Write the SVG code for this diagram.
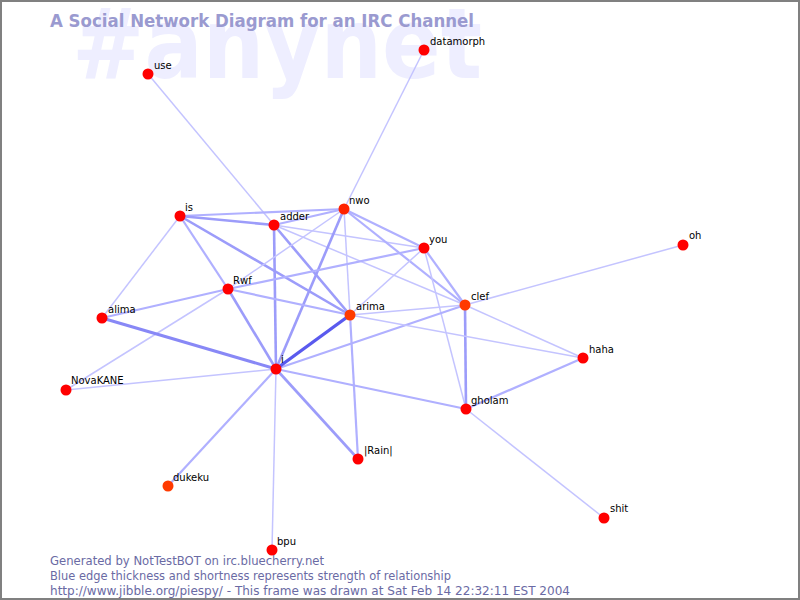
<svg xmlns="http://www.w3.org/2000/svg" width="800" height="600" viewBox="0 0 800 600">
<style>
.e1{stroke:#c4c4ff;stroke-width:1.5;fill:none}
.e2{stroke:#b0b0ff;stroke-width:2.2;fill:none}
.e3{stroke:#9c9cfa;stroke-width:2.6;fill:none}
.e4{stroke:#8888f6;stroke-width:3;fill:none}
.e5{stroke:#5a5aee;stroke-width:3.4;fill:none}
.n{fill:#ff0000}
.o{fill:#ff3a00}
.lb{font-family:"DejaVu Sans","Liberation Sans",sans-serif;font-size:10px;fill:#000}
.ft{font-family:"DejaVu Sans","Liberation Sans",sans-serif;font-size:12px;fill:#6a6aa4}
</style>
<rect x="0" y="0" width="800" height="600" fill="#ffffff"/>
<text x="72" y="78" font-family="DejaVu Sans, Liberation Sans, sans-serif" font-weight="bold" font-size="98" fill="#eeeeff" textLength="410" lengthAdjust="spacingAndGlyphs">#anynet</text>
<text x="50" y="27" font-family="DejaVu Sans, Liberation Sans, sans-serif" font-weight="bold" font-size="17" fill="#9a9ad0" textLength="424" lengthAdjust="spacingAndGlyphs">A Social Network Diagram for an IRC Channel</text>
<g id="connectors">
<line class="e1" x1="148" y1="74" x2="274" y2="225"/>
<line class="e1" x1="424" y1="50" x2="344" y2="209"/>
<line class="e2" x1="180" y1="216" x2="344" y2="209"/>
<line class="e3" x1="180" y1="216" x2="274" y2="225"/>
<line class="e2" x1="180" y1="216" x2="228" y2="289"/>
<line class="e3" x1="180" y1="216" x2="350" y2="315"/>
<line class="e1" x1="180" y1="216" x2="102" y2="318"/>
<line class="e2" x1="274" y1="225" x2="344" y2="209"/>
<line class="e1" x1="274" y1="225" x2="424" y2="248"/>
<line class="e1" x1="274" y1="225" x2="465" y2="305"/>
<line class="e3" x1="274" y1="225" x2="276" y2="369"/>
<line class="e3" x1="274" y1="225" x2="350" y2="315"/>
<line class="e2" x1="344" y1="209" x2="424" y2="248"/>
<line class="e2" x1="344" y1="209" x2="465" y2="305"/>
<line class="e1" x1="344" y1="209" x2="228" y2="289"/>
<line class="e3" x1="344" y1="209" x2="276" y2="369"/>
<line class="e1" x1="344" y1="209" x2="350" y2="315"/>
<line class="e2" x1="350" y1="315" x2="358" y2="459"/>
<line class="e2" x1="424" y1="248" x2="228" y2="289"/>
<line class="e1" x1="424" y1="248" x2="350" y2="315"/>
<line class="e2" x1="424" y1="248" x2="465" y2="305"/>
<line class="e1" x1="424" y1="248" x2="466" y2="409"/>
<line class="e1" x1="465" y1="305" x2="683" y2="245"/>
<line class="e1" x1="465" y1="305" x2="583" y2="358"/>
<line class="e3" x1="465" y1="305" x2="466" y2="409"/>
<line class="e2" x1="465" y1="305" x2="276" y2="369"/>
<line class="e1" x1="465" y1="305" x2="350" y2="315"/>
<line class="e1" x1="350" y1="315" x2="583" y2="358"/>
<line class="e2" x1="228" y1="289" x2="102" y2="318"/>
<line class="e1" x1="228" y1="289" x2="66" y2="390"/>
<line class="e2" x1="228" y1="289" x2="350" y2="315"/>
<line class="e3" x1="228" y1="289" x2="276" y2="369"/>
<line class="e4" x1="102" y1="318" x2="276" y2="369"/>
<line class="e1" x1="66" y1="390" x2="276" y2="369"/>
<line class="e5" x1="276" y1="369" x2="350" y2="315"/>
<line class="e2" x1="276" y1="369" x2="466" y2="409"/>
<line class="e3" x1="276" y1="369" x2="358" y2="459"/>
<line class="e2" x1="276" y1="369" x2="168" y2="486"/>
<line class="e1" x1="276" y1="369" x2="272" y2="550"/>
<line class="e2" x1="466" y1="409" x2="583" y2="358"/>
<line class="e1" x1="466" y1="409" x2="604" y2="518"/>
</g>
<g id="node-use"><circle class="n" cx="148" cy="74" r="5.5"/><text class="lb" x="154" y="69">use</text></g>
<g id="node-datamorph"><circle class="n" cx="424" cy="50" r="5.5"/><text class="lb" x="430" y="45">datamorph</text></g>
<g id="node-is"><circle class="n" cx="180" cy="216" r="5.5"/><text class="lb" x="185" y="211">is</text></g>
<g id="node-adder"><circle class="n" cx="274" cy="225" r="5.5"/><text class="lb" x="280" y="220">adder</text></g>
<g id="node-nwo"><circle class="n" cx="344" cy="209" r="5.5" fill="#ff2200" style="fill:#ff2200"/><text class="lb" x="349" y="204">nwo</text></g>
<g id="node-you"><circle class="n" cx="424" cy="248" r="5.5"/><text class="lb" x="429" y="243">you</text></g>
<g id="node-oh"><circle class="n" cx="683" cy="245" r="5.5"/><text class="lb" x="689" y="239">oh</text></g>
<g id="node-Rwf"><circle class="n" cx="228" cy="289" r="5.5"/><text class="lb" x="233" y="284">Rwf</text></g>
<g id="node-alima"><circle class="n" cx="102" cy="318" r="5.5"/><text class="lb" x="108" y="313">alima</text></g>
<g id="node-arima"><circle class="o" cx="350" cy="315" r="5.5"/><text class="lb" x="356" y="310">arima</text></g>
<g id="node-clef"><circle class="o" cx="465" cy="305" r="5.5"/><text class="lb" x="471" y="300">clef</text></g>
<g id="node-haha"><circle class="n" cx="583" cy="358" r="5.5"/><text class="lb" x="589" y="353">haha</text></g>
<g id="node-i"><circle class="n" cx="276" cy="369" r="5.5"/><text class="lb" x="281" y="363">i</text></g>
<g id="node-NovaKANE"><circle class="n" cx="66" cy="390" r="5.5"/><text class="lb" x="71" y="384">NovaKANE</text></g>
<g id="node-gholam"><circle class="n" cx="466" cy="409" r="5.5"/><text class="lb" x="471" y="404">gholam</text></g>
<g id="node-Rain"><circle class="n" cx="358" cy="459" r="5.5"/><text class="lb" x="364" y="454">|Rain|</text></g>
<g id="node-dukeku"><circle class="o" cx="168" cy="486" r="5.5"/><text class="lb" x="173" y="481">dukeku</text></g>
<g id="node-shit"><circle class="n" cx="604" cy="518" r="5.5"/><text class="lb" x="610" y="512">shit</text></g>
<g id="node-bpu"><circle class="n" cx="272" cy="550" r="5.5"/><text class="lb" x="277" y="545">bpu</text></g>
<text class="ft" x="50" y="565" textLength="274" lengthAdjust="spacingAndGlyphs">Generated by NotTestBOT on irc.bluecherry.net</text>
<text class="ft" x="50" y="580" textLength="401" lengthAdjust="spacingAndGlyphs">Blue edge thickness and shortness represents strength of relationship</text>
<text class="ft" x="50" y="595" textLength="520" lengthAdjust="spacingAndGlyphs">http://www.jibble.org/piespy/ - This frame was drawn at Sat Feb 14 22:32:11 EST 2004</text>
<rect x="1" y="1" width="798" height="598" fill="none" stroke="#808080" stroke-width="2"/>
</svg>
